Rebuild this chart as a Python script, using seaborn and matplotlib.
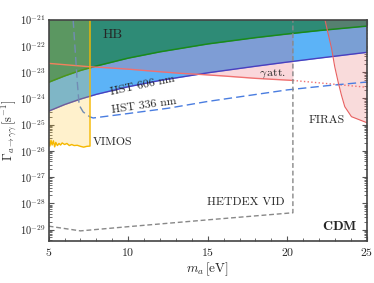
import numpy as np
import matplotlib
matplotlib.use('Agg')
import matplotlib.pyplot as plt
import seaborn as sns

# ---- data (log10 of Gamma) ----
m_hb = [5, 6, 7, 8, 10, 12, 15, 18, 20, 22, 25]
hb = [-23.39, -23.15, -22.94, -22.77, -22.47, -22.23, -21.93, -21.69, -21.55, -21.42, -21.25]

m_606 = [5, 6, 7, 8, 10, 12, 15, 18, 20, 22, 25]
hst606 = [-24.49, -24.24, -24.03, -23.85, -23.56, -23.32, -23.03, -22.78, -22.62, -22.47, -22.25]

m_att = [5, 6, 7, 7.6, 9, 10, 11, 12, 13.3, 14.5, 16, 18, 20.35]
att = [-22.67, -22.72, -22.77, -22.80, -22.85, -22.89, -22.94, -22.99, -23.05, -23.09, -23.15, -23.24, -23.32]
m_att_dot = [20.35, 25]
att_dot = [-23.32, -23.58]

m_336 = [6.54, 6.67, 6.79, 6.92, 7.17, 7.6, 7.8, 10, 12.5, 15, 17.5, 20, 22.5, 25]
hst336 = [-21.0, -22.18, -23.3, -24.26, -24.52, -24.71, -24.75, -24.58, -24.38, -24.12, -23.9, -23.68, -23.52, -23.38]

m_hetdex = [5, 7, 10, 15, 20.35, 20.35]
hetdex = [-28.87, -29.05, -28.89, -28.63, -28.36, -21.0]

m_firas = [22.36, 22.56, 22.78, 22.98, 23.19, 23.40, 23.61, 24.03, 25.0]
firas = [-21.0, -21.53, -22.10, -22.80, -23.37, -23.88, -24.32, -24.70, -24.93]

m_vimos = [5.0, 5.08, 5.15, 5.22, 5.3, 5.38, 5.45, 5.55, 5.65, 5.75, 5.85, 6.0, 6.15, 6.3,
           6.45, 6.6, 6.8, 7.0, 7.2, 7.4, 7.6]
vimos = [-25.55, -25.82, -25.6, -25.78, -25.62, -25.85, -25.68, -25.8, -25.72, -25.78, -25.7,
         -25.76, -25.72, -25.8, -25.76, -25.8, -25.79, -25.83, -25.86, -25.83, -25.82]

top = 1e-21
G = lambda v: 10.0 ** np.array(v)

sns.set_style("ticks")
plt.rcParams['font.family'] = 'serif'
plt.rcParams['font.serif'] = ['cmr10', 'DejaVu Serif']
plt.rcParams['mathtext.fontset'] = 'cm'
plt.rcParams['axes.unicode_minus'] = False
plt.rcParams['axes.formatter.use_mathtext'] = True

fig, ax = plt.subplots(figsize=(3.74, 2.83), dpi=100)
fig.subplots_adjust(left=0.13, right=0.981, top=0.931, bottom=0.148)
ax.set_yscale('log')

# fills
ax.fill_between(m_606, G(hst606), top, color='#5cb3f7', lw=0, zorder=1)
ax.fill_between(m_att, G(att), top, color='#ec5a6a', alpha=0.24, lw=0, zorder=2)
ax.fill_between(m_hb, G(hb), top, color='#2e8b76', lw=0, zorder=3)
ax.fill_between(m_firas, G(firas), top, color='#e85c5c', alpha=0.22, lw=0, zorder=4)

# lines
sns.lineplot(x=m_hb, y=G(hb), color='#1a8a1a', lw=1.1, ax=ax, zorder=5)
sns.lineplot(x=m_606, y=G(hst606), color='#4a3fbf', lw=1.0, ax=ax, zorder=5)
sns.lineplot(x=m_att, y=G(att), color='#f07070', lw=1.0, ax=ax, zorder=5)
sns.lineplot(x=m_att_dot, y=G(att_dot), color='#f07070', lw=1.0, ls=':', ax=ax, zorder=5)
sns.lineplot(x=m_336, y=G(hst336), color='#4a7de0', lw=1.0, ax=ax, zorder=5,
             sort=False, estimator=None).lines[-1].set_dashes((6, 3))
sns.lineplot(x=m_hetdex, y=G(hetdex), color='#888888', lw=1.0, ax=ax, zorder=5,
             sort=False, estimator=None).lines[-1].set_dashes((3.5, 2))
sns.lineplot(x=m_firas, y=G(firas), color='#e86060', lw=0.8, ax=ax, zorder=5, sort=False, estimator=None)

# VIMOS on top
ax.fill_between(m_vimos, G(vimos), top, color='#ffc21a', alpha=0.22, lw=0, zorder=6)
sns.lineplot(x=m_vimos + [7.6], y=G(vimos + [-21.0]), color='#f5b800', lw=1.0, ax=ax,
             zorder=7, sort=False, estimator=None)

# labels
fs = 8.5
ax.text(9.0, G(-21.6), 'HB', fontsize=10, ha='center', va='center', zorder=8)
ax.text(10.9, G(-23.5), 'HST 606 nm', fontsize=fs, ha='center', va='center', rotation=12, zorder=8)
ax.text(11.0, G(-24.27), 'HST 336 nm', fontsize=fs, ha='center', va='center', rotation=8, zorder=8)
ax.text(19.1, G(-23.04), r'$\gamma\,$att.', fontsize=fs, ha='center', va='center', zorder=8)
ax.text(22.5, G(-24.83), 'FIRAS', fontsize=fs, ha='center', va='center', zorder=8)
ax.text(7.8, G(-25.67), 'VIMOS', fontsize=fs, ha='left', va='center', zorder=8)
ax.text(17.4, G(-27.95), 'HETDEX VID', fontsize=fs, ha='center', va='center', zorder=8)
ax.text(24.4, G(-28.9), r'$\mathbf{CDM}$', fontsize=10, ha='right', va='center', zorder=8)

ax.set_xlim(5, 25)
ax.set_ylim(10 ** -29.44, top)
ax.set_xticks([5, 10, 15, 20, 25])
ax.set_xticks(np.arange(5, 26, 1), minor=True)
ax.set_yticks([10.0 ** k for k in range(-29, -20)])
ax.set_xlabel(r'$m_a\,[\mathrm{eV}]$', fontsize=9.5, labelpad=2)
ax.set_ylabel(r'$\Gamma_{a\to\gamma\gamma}\,[\mathrm{s}^{-1}]$', fontsize=9)
ax.yaxis.set_label_coords(-0.093, 0.5)
ax.tick_params(which='both', direction='in', top=True, right=True, color='#555555')
ax.tick_params(axis='x', labelsize=8.5)
ax.tick_params(axis='y', labelsize=7.5, pad=2)
ax.tick_params(which='major', length=3.5)
ax.tick_params(which='minor', length=2)
for s in ax.spines.values():
    s.set_color('#444444')
    s.set_linewidth(1.2)
    s.set_zorder(10)

fig.savefig('out.png', dpi=100)
